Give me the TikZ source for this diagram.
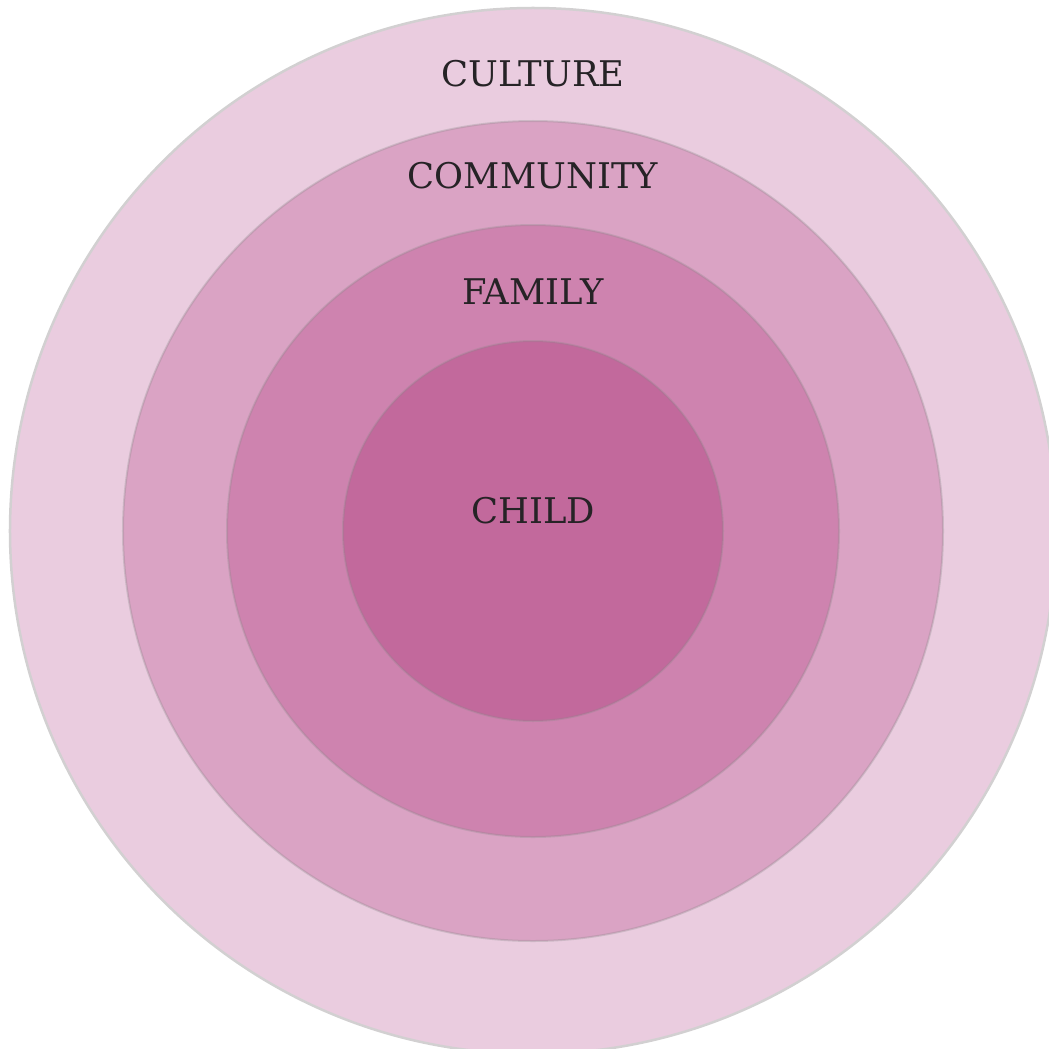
\documentclass[tikz,border=0pt]{standalone}
\usepackage{fontspec}
\setmainfont{DejaVu Serif}
\definecolor{ringA}{HTML}{EACCDF}
\definecolor{ringB}{HTML}{DAA3C4}
\definecolor{ringC}{HTML}{CE83AF}
\definecolor{ringD}{HTML}{C2699C}
\definecolor{edge}{HTML}{8A8A8A}
\definecolor{outeredge}{HTML}{D2D0D1}
\definecolor{labelink}{HTML}{262326}
\begin{document}
\begin{tikzpicture}[x=1bp,y=-1bp,
  ring/.style={circle, line width=2bp, inner sep=0pt, draw=edge, draw opacity=0.3},
  lbl/.style={anchor=base, text=labelink, font=\fontsize{35.5}{42}\selectfont, inner sep=0pt}]
  \useasboundingbox (0,0) rectangle (1049,1049);
  \begin{scope}
    \clip (0,0) rectangle (1049,1049);
    \node[ring, draw=outeredge, draw opacity=1, line width=2.5bp, fill=ringA, minimum size=1046bp] (culture) at (533,531) {};
    \node[ring, fill=ringB, minimum size=820bp] (community) at (533,531) {};
    \node[ring, fill=ringC, minimum size=612bp] (family) at (533,531) {};
    \node[ring, fill=ringD, minimum size=380bp] (child) at (533,531) {};
  \end{scope}
  \node[lbl] (tculture) at (533,86) {CULTURE};
  \node[lbl] (tcommunity) at (533,188) {COMMUNITY};
  \node[lbl] (tfamily) at (533,304) {FAMILY};
  \node[lbl] (tchild) at (533,523) {CHILD};
\end{tikzpicture}
\end{document}
